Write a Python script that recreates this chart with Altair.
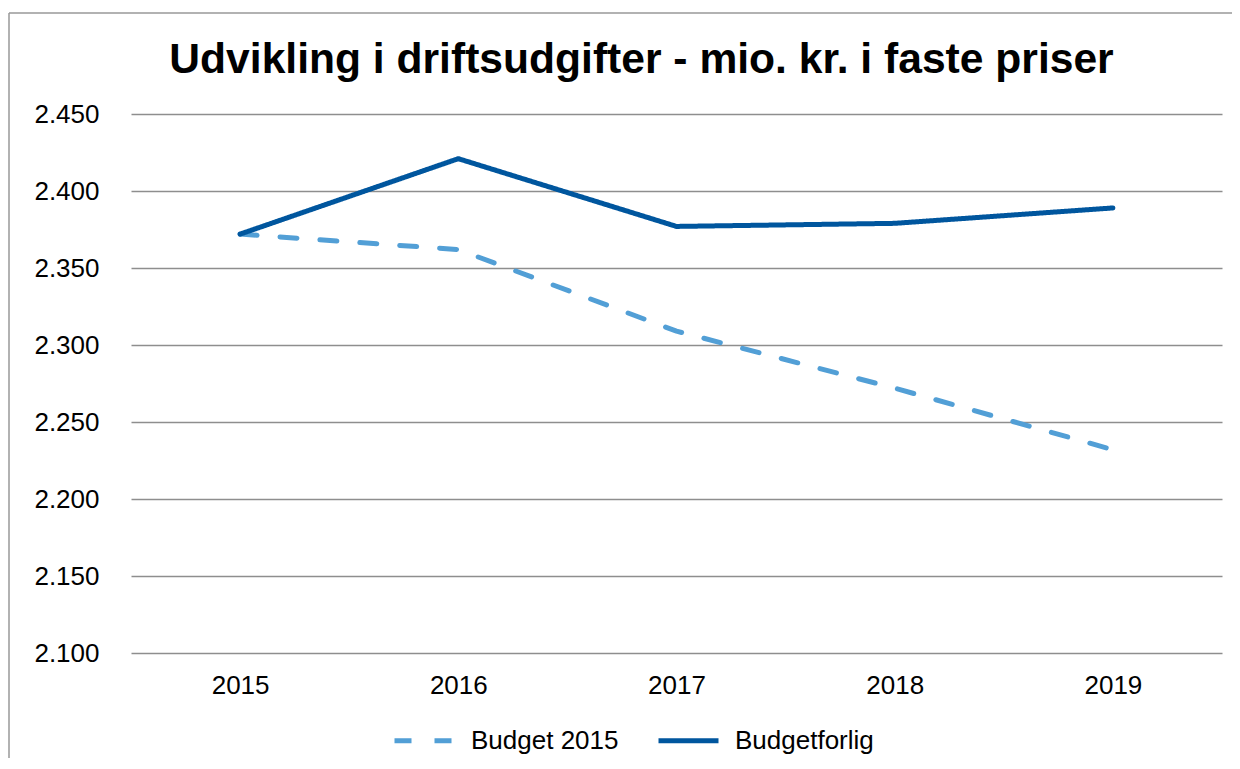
import altair as alt
import pandas as pd

title_text = "Udvikling i driftsudgifter - mio. kr. i faste priser"
years = ["2015", "2016", "2017", "2018", "2019"]
budget_2015 = [2372, 2362, 2309, 2272, 2232]
budgetforlig = [2372, 2421, 2377, 2379, 2389]
series_names = ["Budget 2015", "Budgetforlig"]
series_colors = ["#529FD6", "#00569E"]
y_ticks = [2100, 2150, 2200, 2250, 2300, 2350, 2400, 2450]

rows = []
for name, vals in zip(series_names, [budget_2015, budgetforlig]):
    for yr, v in zip(years, vals):
        rows.append({"year": yr, "value": v, "series": name})
df = pd.DataFrame(rows)

FONT = "Liberation Sans"

legend_kw = dict(title=None, orient="none", direction="horizontal",
                 legendX=261, legendY=594,
                 symbolType="stroke", symbolSize=3600,
                 symbolStrokeWidth=5, labelFontSize=26,
                 labelFont=FONT, labelColor="#000000",
                 labelOffset=14, columnPadding=29)

lines = alt.Chart(df).mark_line(strokeWidth=5, strokeCap="round", strokeJoin="round").encode(
    x=alt.X("year:O", sort=years, title=None,
            scale=alt.Scale(type="point", padding=0.5),
            axis=alt.Axis(labelAngle=0, ticks=False, domain=False, grid=False,
                          labelPadding=19, labelFontSize=26, labelFont=FONT,
                          labelColor="#000000")),
    y=alt.Y("value:Q", title=None,
            scale=alt.Scale(domain=[2100, 2450], zero=False, nice=False),
            axis=alt.Axis(values=y_ticks, ticks=False, domain=False, grid=True,
                          gridColor="#8E8E8E", gridWidth=1.5,
                          labelPadding=32, labelFontSize=26, labelFont=FONT,
                          labelColor="#000000",
                          labelExpr="replace(format(datum.value, ',d'), ',', '.')")),
    color=alt.Color("series:N", sort=series_names,
                    scale=alt.Scale(domain=series_names, range=series_colors),
                    legend=alt.Legend(**legend_kw)),
    strokeDash=alt.StrokeDash("series:N", sort=series_names,
                              scale=alt.Scale(domain=series_names, range=[[17, 23], [1, 0]]),
                              legend=alt.Legend(**legend_kw)),
    order=alt.Order("series:N"),
)

title = alt.Chart(pd.DataFrame({"t": [title_text]})).mark_text(
    font=FONT, fontSize=42.6, fontWeight="bold", color="#000000",
    align="center", baseline="alphabetic"
).encode(text="t:N", x=alt.value(510.5), y=alt.value(-41))

frame_df = pd.DataFrame({"f": [0]})
frame_top = alt.Chart(frame_df).mark_rule(stroke="#999999", strokeWidth=1.5).encode(
    x=alt.value(-122), x2=alt.value(1200), y=alt.value(-101))
frame_left = alt.Chart(frame_df).mark_rule(stroke="#999999", strokeWidth=1.5).encode(
    x=alt.value(-122), y=alt.value(-101), y2=alt.value(700))

chart = alt.layer(frame_top, frame_left, lines, title).properties(
    width=1091, height=539,
    padding={"left": 123, "top": 106, "right": 10, "bottom": 105},
    autosize=alt.AutoSizeParams(type="none"),
    background="#FFFFFF",
).configure_view(strokeWidth=0, stroke="transparent")

chart.save("out.html", embed_options={"renderer": "svg", "actions": False})
